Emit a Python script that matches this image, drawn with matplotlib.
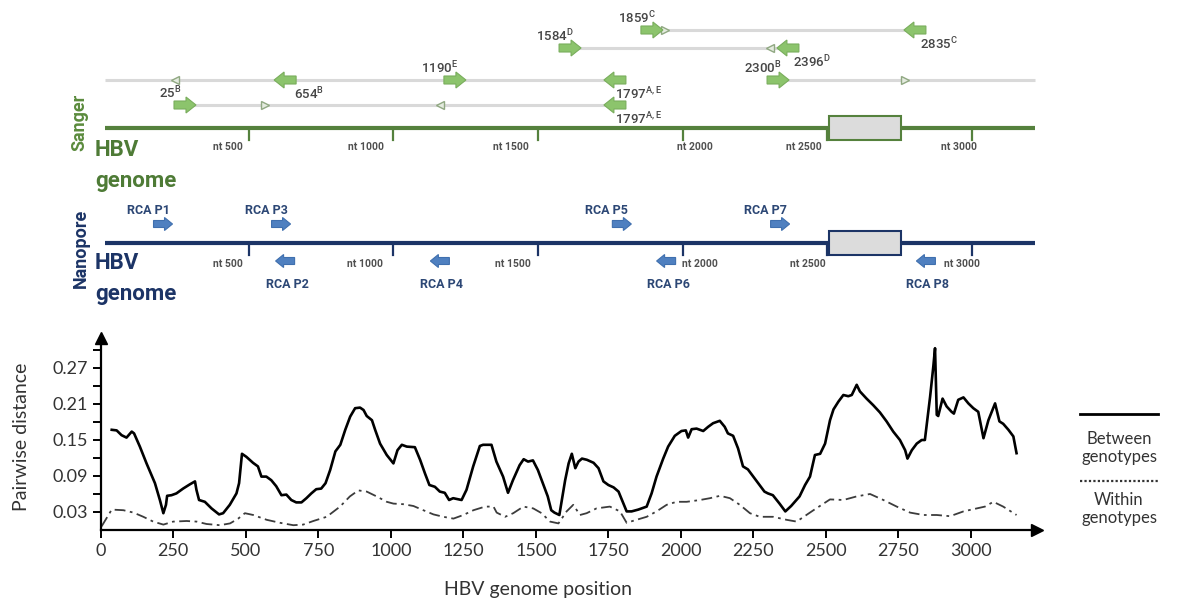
import numpy as np
import matplotlib.pyplot as plt
from matplotlib.patches import FancyArrow, Rectangle

plt.rcParams['mathtext.default'] = 'regular'

# ---------------- data ----------------
# pairwise distance, between genotypes (solid)
between_nt = [38, 55, 72, 89, 107, 115, 135, 158, 187, 204, 216, 225, 229, 244, 261, 284, 307, 325, 330, 339,
              359, 382, 408, 422, 445, 468, 477, 487, 502, 525, 542, 554, 571, 588, 605, 623, 640, 657, 674, 692,
              709, 726, 743, 760, 775, 791, 809, 826, 843, 860, 877, 894, 906, 917, 935, 946, 963, 986, 1009, 1023,
              1038, 1055, 1083, 1101, 1118, 1133, 1152, 1169, 1186, 1201, 1215, 1244, 1261, 1284, 1307, 1318, 1347,
              1364, 1387, 1404, 1421, 1444, 1458, 1473, 1490, 1507, 1524, 1541, 1553, 1564, 1581, 1601, 1613, 1624,
              1636, 1647, 1659, 1676, 1699, 1716, 1733, 1750, 1768, 1785, 1802, 1813, 1830, 1853, 1882, 1899, 1916,
              1939, 1956, 1979, 2002, 2017, 2025, 2037, 2054, 2077, 2094, 2111, 2134, 2151, 2162, 2180, 2197, 2214,
              2231, 2254, 2271, 2288, 2300, 2317, 2340, 2360, 2380, 2409, 2428, 2445, 2462, 2480, 2497, 2514, 2526,
              2543, 2560, 2577, 2589, 2606, 2617, 2640, 2663, 2686, 2709, 2732, 2755, 2773, 2781, 2796, 2813, 2830,
              2841, 2859, 2870, 2876, 2882, 2887, 2902, 2916, 2933, 2941, 2956, 2974, 2991, 3008, 3025, 3043, 3060,
              3083, 3098, 3111, 3129, 3146, 3157]
between_val = [.167, .166, .158, .154, .164, .161, .139, .111, .078, .050, .028, .042, .057, .058, .061, .069, .076,
               .081, .067, .050, .047, .036, .026, .028, .042, .061, .078, .127, .122, .112, .106, .089, .089, .083,
               .073, .058, .059, .050, .046, .046, .053, .061, .068, .069, .078, .100, .131, .142, .167, .189, .203,
               .204, .200, .190, .183, .167, .144, .125, .111, .133, .142, .139, .138, .117, .094, .075, .072, .064,
               .062, .050, .053, .050, .067, .106, .140, .142, .142, .114, .089, .062, .083, .108, .118, .114, .116,
               .100, .078, .056, .033, .029, .025, .083, .111, .127, .103, .114, .119, .117, .112, .103, .081, .075,
               .071, .064, .044, .031, .031, .034, .039, .061, .089, .119, .139, .157, .165, .166, .154, .168, .169,
               .165, .172, .178, .182, .172, .161, .157, .136, .106, .101, .086, .075, .064, .061, .058, .044, .031,
               .040, .056, .075, .089, .125, .127, .144, .183, .201, .214, .225, .223, .225, .242, .231, .219, .208,
               .196, .181, .164, .150, .133, .119, .133, .144, .150, .150, .222, .272, .303, .192, .190, .219, .206,
               .197, .194, .217, .221, .211, .203, .197, .153, .183, .211, .181, .177, .167, .156, .128]

# pairwise distance, within genotypes (dashed)
within_nt = [3, 38, 78, 113, 147, 181, 216, 250, 296, 331, 365, 411, 446, 474, 497, 526, 572, 618, 664, 698, 733,
             779, 825, 859, 888, 917, 951, 986, 1009, 1043, 1078, 1112, 1147, 1181, 1216, 1250, 1285, 1325, 1354,
             1365, 1394, 1422, 1457, 1491, 1520, 1549, 1578, 1606, 1629, 1652, 1675, 1709, 1755, 1790, 1813, 1847,
             1882, 1916, 1951, 1985, 2020, 2066, 2100, 2135, 2169, 2203, 2238, 2272, 2318, 2364, 2399, 2457, 2514,
             2560, 2606, 2652, 2698, 2744, 2790, 2836, 2882, 2928, 2974, 3020, 3048, 3077, 3111, 3157]
within_val = [.006, .034, .033, .029, .022, .014, .009, .014, .015, .014, .010, .008, .011, .019, .028, .025, .017,
              .012, .008, .009, .015, .022, .039, .056, .066, .064, .056, .047, .044, .043, .040, .033, .026, .022,
              .019, .025, .033, .039, .039, .029, .022, .028, .039, .036, .028, .014, .011, .031, .042, .025, .028,
              .036, .039, .031, .012, .017, .022, .031, .042, .047, .047, .050, .053, .057, .053, .042, .028, .022,
              .022, .017, .014, .033, .051, .050, .056, .060, .050, .039, .029, .025, .025, .023, .031, .036, .039,
              .047, .039, .025]

x_ticks = np.arange(0, 3001, 250)
y_ticks = [0.03, 0.06, 0.09, 0.12, 0.15, 0.18, 0.21, 0.24, 0.27, 0.30]
y_ticklabels = ['0.03', '', '0.09', '', '0.15', '', '0.21', '', '0.27', '']

# genome map (positions in nt as drawn in the figure)
genome_ticks = [500, 1000, 1500, 2000, 2500, 3000]
genome_box = (2505, 2755)

sanger_fwd_nt = [1894, 1611, 1213, 2330, 280]
sanger_fwd_row = [0, 1, 2, 2, 3]
sanger_fwd_lab = [r'1859$^{C}$', r'1584$^{D}$', r'1190$^{E}$', r'2300$^{B}$', r'25$^{B}$']
sanger_rev_nt = [2803, 2364, 626, 1766, 1766]
sanger_rev_row = [0, 1, 2, 2, 3]
sanger_rev_lab = [r'2835$^{C}$', r'2396$^{D}$', r'654$^{B}$', r'1797$^{A,E}$', r'1797$^{A,E}$']
small_fwd_nt = [1939, 2769, 557]
small_fwd_row = [0, 2, 3]
small_rev_nt = [2302, 245, 1161]
small_rev_row = [1, 2, 3]
amplicon_start = [1894, 1611, 3, 2330, 280]
amplicon_end = [2803, 2364, 1766, 3218, 1766]
amplicon_row = [0, 1, 2, 2, 3]

rca_fwd_nt = [204, 612, 1790, 2337]
rca_fwd_lab = ['RCA P1', 'RCA P3', 'RCA P5', 'RCA P7']
rca_rev_nt = [626, 1161, 1943, 2841]
rca_rev_lab = ['RCA P2', 'RCA P4', 'RCA P6', 'RCA P8']

# ---------------- layout ----------------
W, H = 1177, 601
PX_PER_NT = 0.2893
X0 = 104.0
row_y = [30, 48, 80, 105]
sanger_y, nano_y = 128, 243
san_lab_dx = [-21, -27, -27, 12, -23, -13]
nano_lab_dx = [-21, -28, -25, 17, -19, -10]

narrow = ['Roboto', 'DejaVu Sans']
body = ['Lato', 'DejaVu Sans']
green_dark = '#55813d'
green_arrow = '#8cc46c'
navy = '#1c3466'
blue_arrow = '#4f80c0'

fig = plt.figure(figsize=(W / 100, H / 100), dpi=100)

# overlay in pixel coordinates (legend, axis titles)
px = fig.add_axes([0, 0, 1, 1])
px.set_xlim(0, W)
px.set_ylim(H, 0)
px.axis('off')

# genome map: x in nt, y in pixels
gx = fig.add_axes([0, 0, 1, 1])
gx.set_xlim(-X0 / PX_PER_NT, (W - X0) / PX_PER_NT)
gx.set_ylim(H, 0)
gx.axis('off')


def nt(pixels):
    return pixels / PX_PER_NT


def block_arrow(x, y, direction, color, edge, length, body_w, head, headlen):
    L = nt(length)
    start = x - direction * L / 2
    gx.add_patch(FancyArrow(start, y, direction * L, 0, width=body_w, head_width=head,
                            head_length=nt(headlen), length_includes_head=True,
                            facecolor=color, edgecolor=edge, lw=0.8, zorder=4))


# Sanger amplicons
for s, e, r in zip(amplicon_start, amplicon_end, amplicon_row):
    gx.plot([s, e], [row_y[r], row_y[r]], color='#d9d9d9', lw=2.2, solid_capstyle='butt', zorder=1)
for x, r in zip(small_fwd_nt, small_fwd_row):
    gx.plot(x, row_y[r], marker='>', ms=6, mfc='#e4ebdf', mec='#90a882', mew=1.0, zorder=3)
for x, r in zip(small_rev_nt, small_rev_row):
    gx.plot(x, row_y[r], marker='<', ms=6, mfc='#e4ebdf', mec='#90a882', mew=1.0, zorder=3)
for x, r, lab in zip(sanger_fwd_nt, sanger_fwd_row, sanger_fwd_lab):
    block_arrow(x, row_y[r], 1, green_arrow, '#79ad5c', 22, 8, 16, 10)
    gx.text(x - nt(15), row_y[r] - 12, lab, ha='center', va='center', fontsize=9.5,
            family=narrow, fontweight='medium', color='#454545')
for x, r, lab in zip(sanger_rev_nt, sanger_rev_row, sanger_rev_lab):
    block_arrow(x, row_y[r], -1, green_arrow, '#79ad5c', 22, 8, 16, 10)
    gx.text(x + nt(24), row_y[r] + 14, lab, ha='center', va='center', fontsize=9.5,
            family=narrow, fontweight='medium', color='#454545')

# genome backbones
for yy, col in ((sanger_y, green_dark), (nano_y, navy)):
    gx.plot([3, 3218], [yy, yy], color=col, lw=3, solid_capstyle='butt', zorder=2)
    for t in genome_ticks:
        gx.plot([t, t], [yy, yy + 12], color=col, lw=1.6, zorder=2)
    gx.add_patch(Rectangle((genome_box[0], yy - 12), genome_box[1] - genome_box[0], 24,
                           facecolor='#dcdcdc', edgecolor=col, lw=1.5, zorder=3))

for t, dx in zip(genome_ticks, san_lab_dx):
    gx.text(t + nt(dx), sanger_y + 19, 'nt %d' % t, ha='center', va='center', fontsize=7.5,
            fontweight='bold', family=narrow, color='#505050')
for t, dx in zip(genome_ticks, nano_lab_dx):
    gx.text(t + nt(dx), nano_y + 21, 'nt %d' % t, ha='center', va='center', fontsize=7.5,
            fontweight='bold', family=narrow, color='#505050')

# Nanopore RCA primers
for x, lab in zip(rca_fwd_nt, rca_fwd_lab):
    block_arrow(x, nano_y - 19, 1, blue_arrow, '#3f6fae', 19, 7, 13, 8)
    gx.text(x - nt(15), nano_y - 32, lab, ha='center', va='center', fontsize=9,
            fontweight='bold', family=narrow, color='#2c4775')
for x, lab in zip(rca_rev_nt, rca_rev_lab):
    block_arrow(x, nano_y + 18, -1, blue_arrow, '#3f6fae', 19, 7, 13, 8)
    gx.text(x + nt(2), nano_y + 41, lab, ha='center', va='center', fontsize=9,
            fontweight='bold', family=narrow, color='#2c4775')

# section titles
px.text(79, 122, 'Sanger', rotation=90, ha='center', va='center', fontsize=13, fontweight='bold',
        family=narrow, color='#5b8b3d')
px.text(95, 150, 'HBV', ha='left', va='center', fontsize=16, fontweight='bold', family=narrow, color='#4e7b36')
px.text(95, 181, 'genome', ha='left', va='center', fontsize=16, fontweight='bold', family=narrow, color='#4e7b36')
px.text(81, 248, 'Nanopore', rotation=90, ha='center', va='center', fontsize=13, fontweight='bold',
        family=narrow, color=navy)
px.text(95, 263, 'HBV', ha='left', va='center', fontsize=16, fontweight='bold', family=narrow, color=navy)
px.text(95, 294, 'genome', ha='left', va='center', fontsize=16, fontweight='bold', family=narrow, color=navy)

# ---------------- pairwise distance plot ----------------
left, right, bottom, top = 100.7, 1037, 530, 338
ax = fig.add_axes([left / W, 1 - bottom / H, (right - left) / W, (bottom - top) / H])
ax.patch.set_alpha(0)
ax.plot(between_nt, between_val, color='black', lw=1.9, zorder=3)
ax.plot(within_nt, within_val, color='#3c3c3c', lw=1.3, linestyle=(0, (6, 2.5, 1.5, 2.5)), zorder=2)
ax.set_xlim(0, (right - left) / 0.2901)
ax.set_ylim(0, 0.32)
for side in ('top', 'right'):
    ax.spines[side].set_visible(False)
for side in ('left', 'bottom'):
    ax.spines[side].set_linewidth(1.6)
ax.plot(1, 0, '>k', ms=8, transform=ax.transAxes, clip_on=False)
ax.plot(0, 1, '^k', ms=8, transform=ax.transAxes, clip_on=False)
ax.set_xticks(x_ticks)
ax.set_yticks(y_ticks)
ax.set_yticklabels(y_ticklabels)
ax.tick_params(direction='out', length=6, width=1.4, labelsize=13, colors='black',
               labelcolor='#333333')
for lab in ax.get_xticklabels() + ax.get_yticklabels():
    lab.set_family(body)

px.text(22, 437, 'Pairwise distance', rotation=90, ha='center', va='center', fontsize=14,
        family=body, color='#333333')
px.text(538, 590, 'HBV genome position', ha='center', va='center', fontsize=14,
        family=body, color='#333333')

# legend
px.plot([1080, 1158], [414, 414], color='black', lw=2)
px.text(1119, 448, 'Between\ngenotypes', ha='center', va='center', fontsize=12, linespacing=1.15,
        family=body, color='#333333')
px.plot([1080, 1158], [481, 481], color='#333333', lw=1.6, linestyle=(0, (1, 1)))
px.text(1119, 509, 'Within\ngenotypes', ha='center', va='center', fontsize=12, linespacing=1.15,
        family=body, color='#333333')

plt.savefig('out.png', dpi=100)
